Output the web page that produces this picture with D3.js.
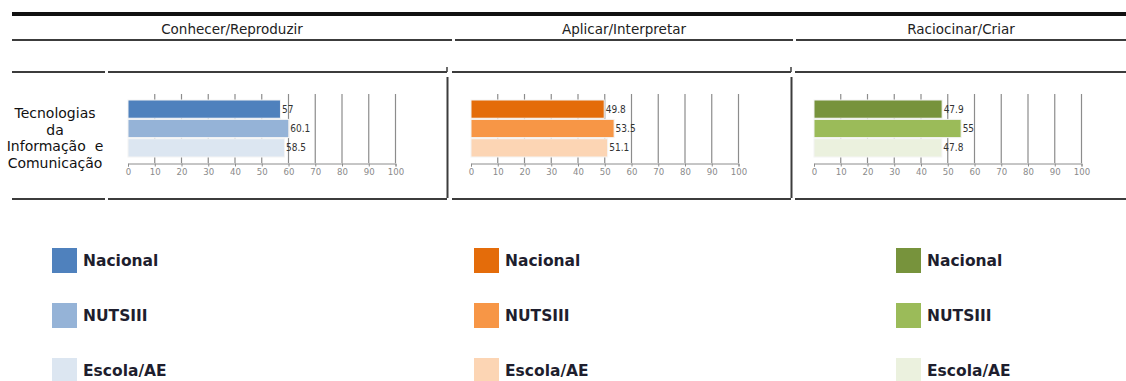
<!DOCTYPE html>
<html>
<head>
<meta charset="utf-8">
<script src="https://cdn.jsdelivr.net/npm/d3@7"></script>
<style>
  html, body { margin: 0; padding: 0; background: #fff; }
  svg { display: block; }
</style>
</head>
<body>
<svg id="chart" width="1126" height="381"></svg>
<script>
// Domains (column headers) and the single subject row
const domains = ["Conhecer/Reproduzir", "Aplicar/Interpretar", "Raciocinar/Criar"];
const rowLabel = ["Tecnologias", "da", "Informação  e", "Comunicação"];
const seriesNames = ["Nacional", "NUTSIII", "Escola/AE"];

// Scores per domain, one value per series (Nacional, NUTSIII, Escola/AE)
const conhecerValues = [57, 60.1, 58.5];
const aplicarValues = [49.8, 53.5, 51.1];
const raciocinarValues = [47.9, 55, 47.8];

const tickValues = [0, 10, 20, 30, 40, 50, 60, 70, 80, 90, 100];

// Colour ramps, one per domain
const bluePalette = ["#4f81bd", "#95b3d7", "#dce6f1"];
const orangePalette = ["#e46c0a", "#f79646", "#fcd5b4"];
const greenPalette = ["#77933c", "#9bbb59", "#ebf1de"];

const panels = [
  { title: domains[0], values: conhecerValues, colors: bluePalette, x0: 128, head: [12, 452], cell: [108, 447] },
  { title: domains[1], values: aplicarValues, colors: orangePalette, x0: 471, head: [455, 793], cell: [452, 791] },
  { title: domains[2], values: raciocinarValues, colors: greenPalette, x0: 814, head: [796, 1126], cell: [795, 1126] }
];

const svg = d3.select("#chart");
const lineColor = "#3c3c3c";
const font = "'DejaVu Sans', Verdana, sans-serif";

// Table frame
svg.append("rect").attr("x", 12).attr("y", 12).attr("width", 1114).attr("height", 4).attr("fill", "#111");

function hline(x1, x2, y) {
  svg.append("line").attr("x1", x1).attr("x2", x2).attr("y1", y).attr("y2", y)
    .attr("stroke", lineColor).attr("stroke-width", 2);
}
function vline(x, y1, y2, w) {
  svg.append("line").attr("x1", x).attr("x2", x).attr("y1", y1).attr("y2", y2)
    .attr("stroke", lineColor).attr("stroke-width", w || 2);
}

// Row label column lines
hline(12, 105, 72);
hline(12, 105, 199);

panels.forEach((p, i) => {
  // header underline
  hline(p.head[0], p.head[1], 40);
  // header title
  svg.append("text")
    .attr("x", (p.head[0] + p.head[1]) / 2)
    .attr("y", 34)
    .attr("text-anchor", "middle")
    .attr("font-family", font)
    .attr("font-size", 13.5)
    .attr("fill", "#222")
    .text(p.title);
  // cell top and bottom borders
  hline(p.cell[0], p.cell[1], 72);
  hline(p.cell[0], p.cell[1], 199);
  if (i < 2) {
    vline(p.cell[1], 67, 72, 1.5);
    vline(p.cell[1] + 0.5, 77, 198);
  }
});

// Row label
const rl = svg.append("text")
  .attr("font-family", font)
  .attr("font-size", 14)
  .attr("fill", "#111")
  .attr("text-anchor", "middle")
  .attr("xml:space", "preserve")
  .style("white-space", "pre");
rowLabel.forEach((t, k) => {
  rl.append("tspan").attr("x", 55).attr("y", 118 + k * 16.7).text(t);
});

// Bar charts
panels.forEach(p => {
  const x = d3.scaleLinear().domain([0, 100]).range([p.x0, p.x0 + 267.5]);
  const y = d3.scaleBand().domain(seriesNames).range([100, 157]).paddingInner(0.06);
  const g = svg.append("g");

  // vertical gridlines
  g.selectAll("line.grid").data(tickValues.slice(1)).join("line")
    .attr("class", "grid")
    .attr("x1", d => x(d)).attr("x2", d => x(d))
    .attr("y1", 94).attr("y2", 163)
    .attr("stroke", "#8c8c8c").attr("stroke-width", 1.2);

  // bottom axis
  const axis = g.append("g")
    .attr("transform", "translate(0,163.5)")
    .call(d3.axisBottom(x).tickValues(tickValues).tickSize(3).tickPadding(2).tickFormat(d3.format("d")));
  axis.select(".domain").attr("stroke", "#8c8c8c");
  axis.selectAll(".tick line").attr("stroke", "#8c8c8c");
  axis.selectAll("text")
    .attr("fill", "#8a8a8a")
    .attr("font-family", "'DejaVu Sans Condensed', 'DejaVu Sans', sans-serif")
    .attr("font-size", 9.5);

  // bars
  g.selectAll("rect.bar").data(p.values).join("rect")
    .attr("class", "bar")
    .attr("x", x(0))
    .attr("y", (d, k) => y(seriesNames[k]))
    .attr("width", d => x(d) - x(0))
    .attr("height", y.bandwidth())
    .attr("fill", (d, k) => p.colors[k])
    .attr("stroke", "#f4f4f4")
    .attr("stroke-width", 1);

  // value labels
  g.selectAll("text.val").data(p.values).join("text")
    .attr("class", "val")
    .attr("x", d => x(d) + 1.5)
    .attr("y", (d, k) => y(seriesNames[k]) + y.bandwidth() / 2 + 3.5)
    .attr("font-family", "'DejaVu Sans Condensed', 'DejaVu Sans', sans-serif")
    .attr("font-size", 10)
    .attr("fill", "#333")
    .text(d => d);
});

// Legends, one per domain colour ramp
const legendX = [52, 474, 896];
panels.forEach((p, i) => {
  seriesNames.forEach((name, k) => {
    const yy = 248 + k * 55;
    svg.append("rect")
      .attr("x", legendX[i]).attr("y", yy)
      .attr("width", 25).attr("height", 25)
      .attr("fill", p.colors[k]);
    svg.append("text")
      .attr("x", legendX[i] + 31).attr("y", yy + 18)
      .attr("font-family", font)
      .attr("font-weight", "bold")
      .attr("font-size", 15.5)
      .attr("fill", "#1e1e2e")
      .text(name);
  });
});
</script>
</body>
</html>
